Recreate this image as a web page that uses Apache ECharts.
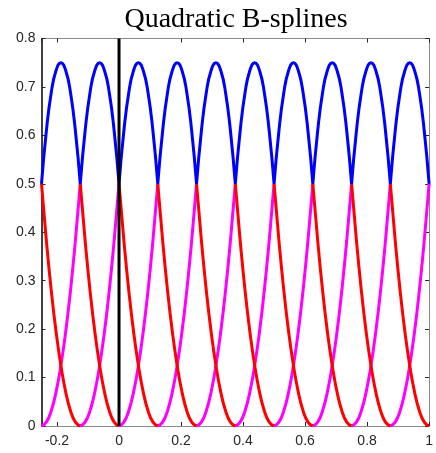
<!DOCTYPE html>
<html>
<head>
<meta charset="utf-8">
<script src="https://cdn.jsdelivr.net/npm/echarts@6/dist/echarts.min.js"></script>
<style>
html,body{margin:0;padding:0;background:#fff;}
#chart{width:436px;height:453px;}
</style>
</head>
<body>
<div id="chart"></div>
<script>
// Knot positions (uniform spacing)
const knots = [-0.25, -0.125, 0, 0.125, 0.25, 0.375, 0.5, 0.625, 0.75, 0.875, 1];
// Relative position of samples inside one knot interval
const sampleT = [0, 0.125, 0.25, 0.375, 0.5, 0.625, 0.75, 0.875, 1];
// Shape of each piece over one interval
const blueArc = [0.5, 0.609, 0.6875, 0.734, 0.75, 0.734, 0.6875, 0.609, 0.5];
const redFall = [0.5, 0.383, 0.281, 0.195, 0.125, 0.070, 0.031, 0.008, 0];
const magentaRise = [0, 0.008, 0.031, 0.070, 0.125, 0.195, 0.281, 0.383, 0.5];
// Vertical line at x = 0
const vLineX = [0, 0];
const vLineY = [0, 0.8];
const titleText = 'Quadratic B-splines';

function buildPieces(profile) {
  const out = [];
  for (let k = 0; k < knots.length - 1; k++) {
    const a = knots[k], b = knots[k + 1];
    for (let i = 0; i < sampleT.length; i++) {
      out.push([a + sampleT[i] * (b - a), profile[i]]);
    }
    out.push([b, '-']);
  }
  return out;
}

const chart = echarts.init(document.getElementById('chart'));
const labelStyle = {color: '#262626', fontSize: 14, fontFamily: 'Liberation Sans, Arial, sans-serif'};
const greyLine = {color: '#8a8a8a', width: 1};
const tickStyle = {color: '#262626', width: 1};

chart.setOption({
  animation: false,
  backgroundColor: '#ffffff',
  title: {
    text: titleText,
    left: 231,
    textAlign: 'center',
    top: 1,
    textStyle: {fontFamily: 'Liberation Serif, Times New Roman, serif', fontSize: 28, fontWeight: 'normal', color: '#000'}
  },
  grid: {left: 41.5, right: 6.7, top: 38.5, bottom: 27, containLabel: false},
  xAxis: [
    {type: 'value', position: 'bottom', min: -0.25, max: 1, splitNumber: 6,
     axisLine: {show: true, onZero: false, lineStyle: greyLine},
     axisTick: {show: true, inside: true, length: 4, lineStyle: tickStyle},
     axisLabel: Object.assign({margin: 8, showMinLabel: false}, labelStyle),
     splitLine: {show: false}},
    {type: 'value', position: 'top', min: -0.25, max: 1, splitNumber: 6,
     axisLine: {show: true, onZero: false, lineStyle: greyLine},
     axisTick: {show: true, inside: true, length: 4, lineStyle: tickStyle},
     axisLabel: {show: false}, splitLine: {show: false}}
  ],
  yAxis: [
    {type: 'value', position: 'left', min: 0, max: 0.8, interval: 0.1,
     axisLine: {show: true, onZero: false, lineStyle: {color: '#000', width: 1.5}},
     axisTick: {show: true, inside: true, length: 4, lineStyle: tickStyle},
     axisLabel: Object.assign({margin: 6}, labelStyle),
     splitLine: {show: false}},
    {type: 'value', position: 'right', min: 0, max: 0.8, interval: 0.1,
     axisLine: {show: true, onZero: false, lineStyle: greyLine},
     axisTick: {show: true, inside: true, length: 4, lineStyle: tickStyle},
     axisLabel: {show: false}, splitLine: {show: false}}
  ],
  series: [
    {type: 'line', name: 'rise', data: buildPieces(magentaRise), smooth: true, showSymbol: false, z: 2,
     lineStyle: {color: '#ff00ff', width: 3}, connectNulls: false},
    {type: 'line', name: 'fall', data: buildPieces(redFall), smooth: true, showSymbol: false, z: 3,
     lineStyle: {color: '#ff0000', width: 3}, connectNulls: false},
    {type: 'line', name: 'middle', data: buildPieces(blueArc), smooth: true, showSymbol: false, z: 4,
     lineStyle: {color: '#0000ff', width: 3}, connectNulls: false},
    {type: 'line', name: 'axis', data: vLineX.map((x, i) => [x, vLineY[i]]), showSymbol: false, z: 5,
     lineStyle: {color: '#000000', width: 3}}
  ]
});
</script>
</body>
</html>
